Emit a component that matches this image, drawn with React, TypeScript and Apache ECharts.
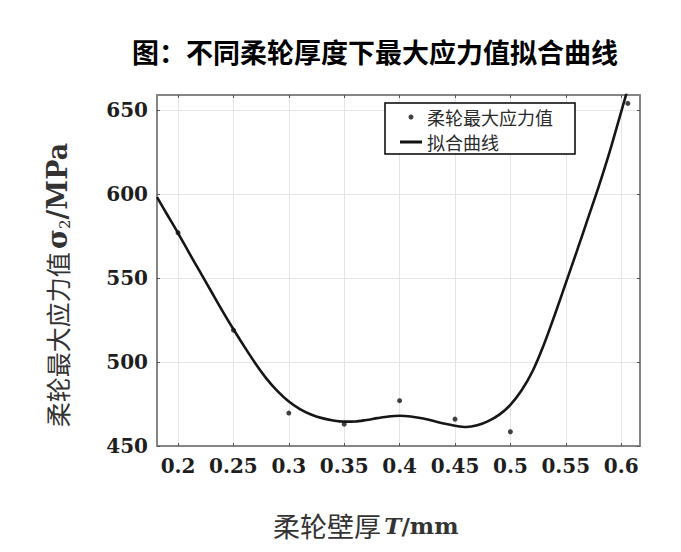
import React, { useEffect, useRef } from 'react';
import * as echarts from 'echarts';

const titleText = '图：不同柔轮厚度下最大应力值拟合曲线';
const legendNames = ['柔轮最大应力值', '拟合曲线'];

const xTicks = [0.2, 0.25, 0.3, 0.35, 0.4, 0.45, 0.5, 0.55, 0.6];
const yTicks = [450, 500, 550, 600, 650];

const pointX = [0.2, 0.25, 0.3, 0.35, 0.4, 0.45, 0.5, 0.606];
const pointY = [577, 519, 469.6, 463, 477, 466, 458.5, 654];

const curveX = [0.181, 0.19, 0.2, 0.21, 0.22, 0.23, 0.24, 0.25, 0.26, 0.27, 0.28, 0.29, 0.3, 0.31, 0.32, 0.33, 0.34, 0.35, 0.36, 0.37, 0.38, 0.39, 0.4, 0.41, 0.42, 0.43, 0.44, 0.45, 0.46, 0.47, 0.48, 0.49, 0.5, 0.51, 0.52, 0.53, 0.54, 0.55, 0.56, 0.57, 0.58, 0.59, 0.6, 0.61];
const curveY = [598.2, 588, 576.8, 565, 553.5, 542, 530.5, 519.5, 509, 499, 490, 482.5, 476.5, 472, 468.8, 466.6, 465.2, 464.5, 464.6, 465.5, 466.6, 467.6, 468, 467.6, 466.5, 465, 463.4, 462.1, 461.3, 462.3, 464.8, 468.7, 474.5, 483, 494.5, 510, 528, 547, 566, 585.5, 605, 626, 649, 672];

const X_MIN = 0.181;
const X_MAX = 0.617;
const Y_MIN = 450;
const Y_MAX = 659;

export default function App() {
  const ref = useRef<HTMLDivElement>(null);
  useEffect(() => {
    if (!ref.current) return;
    const chart = echarts.init(ref.current, undefined, { renderer: 'svg' });
    const serif = 'DejaVu Serif';
    const cjk = 'Noto Sans CJK SC';
    const axisLineStyle = { color: '#858585', width: 2 };
    const tickStyle = { color: '#555', width: 1 };
    const labelStyle = {
      fontFamily: serif,
      fontWeight: 'bold' as const,
      fontSize: 20,
      color: '#1e1e1e',
    };
    chart.setOption({
      animation: false,
      backgroundColor: '#fff',
      title: {
        text: titleText,
        left: 132,
        top: 38,
        padding: 0,
        textStyle: { fontFamily: cjk, fontWeight: 'bold', fontSize: 27, color: '#000' },
      },
      grid: { left: 157, right: 41, top: 95, bottom: 106, containLabel: false },
      legend: {
        orient: 'vertical',
        left: 385,
        top: 103,
        padding: [5, 22, 3, 15],
        itemGap: 7,
        itemWidth: 22,
        itemHeight: 5,
        borderColor: '#000',
        borderWidth: 1.5,
        backgroundColor: '#fff',
        textStyle: { fontFamily: cjk, fontSize: 18, color: '#2a2a2a' },
        data: [
          { name: legendNames[0], icon: 'circle', itemStyle: { color: '#111' } },
          {
            name: legendNames[1],
            icon: 'path://M0 0 L22 0 L22 0.01 L0 0.01 Z M0 1 L22 1 L22 4 L0 4 Z M0 4.99 L22 4.99 L22 5 L0 5 Z',
            itemStyle: { color: '#111' },
          },
        ],
      },
      xAxis: [
        {
          type: 'value',
          min: X_MIN,
          max: X_MAX,
          position: 'bottom',
          axisLine: { show: true, onZero: false, lineStyle: axisLineStyle },
          axisTick: { show: true, inside: true, length: 3, customValues: xTicks, lineStyle: tickStyle },
          axisLabel: { customValues: xTicks, margin: 10, formatter: (v: number) => String(v), ...labelStyle },
          splitLine: { show: true, lineStyle: { color: '#e4e4e4', width: 1 } },
        },
        {
          type: 'value',
          min: X_MIN,
          max: X_MAX,
          position: 'top',
          axisLine: { show: true, onZero: false, lineStyle: axisLineStyle },
          axisTick: { show: true, inside: true, length: 3, customValues: xTicks, lineStyle: tickStyle },
          axisLabel: { show: false },
          splitLine: { show: false },
        },
      ],
      yAxis: [
        {
          type: 'value',
          min: Y_MIN,
          max: Y_MAX,
          position: 'left',
          axisLine: { show: true, onZero: false, lineStyle: axisLineStyle },
          axisTick: { show: true, inside: true, length: 3, customValues: yTicks, lineStyle: tickStyle },
          axisLabel: { customValues: yTicks, margin: 9, ...labelStyle },
          splitLine: { show: true, lineStyle: { color: '#e4e4e4', width: 1 } },
        },
        {
          type: 'value',
          min: Y_MIN,
          max: Y_MAX,
          position: 'right',
          axisLine: { show: true, onZero: false, lineStyle: axisLineStyle },
          axisTick: { show: true, inside: true, length: 3, customValues: yTicks, lineStyle: tickStyle },
          axisLabel: { show: false },
          splitLine: { show: false },
        },
      ],
      series: [
        {
          name: legendNames[0],
          type: 'scatter',
          symbol: 'circle',
          symbolSize: 5,
          itemStyle: { color: '#111' },
          data: pointX.map((x, i) => [x, pointY[i]]),
          z: 3,
        },
        {
          name: legendNames[1],
          type: 'line',
          smooth: 0.3,
          symbol: 'none',
          showSymbol: false,
          itemStyle: { color: '#111' },
          lineStyle: { color: '#161616', width: 2.6 },
          data: curveX.map((x, i) => [x, curveY[i]]),
          z: 2,
        },
      ],
      graphic: [
        {
          type: 'text',
          x: 57,
          y: 285,
          rotation: Math.PI / 2,
          style: {
            text: '{a|柔轮最大应力值} {b|σ}{s|2}{c|/MPa}',
            textAlign: 'center',
            textVerticalAlign: 'middle',
            align: 'center',
            verticalAlign: 'middle',
            fill: '#333',
            rich: {
              a: { fontFamily: cjk, fontSize: 25, fill: '#333', color: '#333', lineHeight: 30 },
              b: { fontFamily: serif, fontWeight: 'bold', fontSize: 27, fill: '#333', color: '#333', lineHeight: 30 },
              s: { fontFamily: serif, fontSize: 15, fill: '#333', color: '#333', verticalAlign: 'bottom', lineHeight: 15 },
              c: { fontFamily: serif, fontWeight: 'bold', fontSize: 27, fill: '#333', color: '#333', lineHeight: 30 },
            },
          },
        },
        {
          type: 'text',
          x: 273,
          y: 525,
          style: {
            text: '{a|柔轮壁厚} {t|T}{c|/mm}',
            textAlign: 'left',
            textVerticalAlign: 'middle',
            align: 'left',
            verticalAlign: 'middle',
            fill: '#333',
            rich: {
              a: { fontFamily: cjk, fontSize: 27, fill: '#333', color: '#333' },
              t: { fontFamily: serif, fontWeight: 'bold', fontStyle: 'italic', fontSize: 23, fill: '#333', color: '#333' },
              c: { fontFamily: serif, fontWeight: 'bold', fontSize: 23, fill: '#333', color: '#333' },
            },
          },
        },
      ],
    });
    return () => chart.dispose();
  }, []);
  return (
    <div
      ref={ref}
      style={{ position: 'fixed', left: 0, top: 0, width: 681, height: 552, background: '#fff' }}
    />
  );
}
